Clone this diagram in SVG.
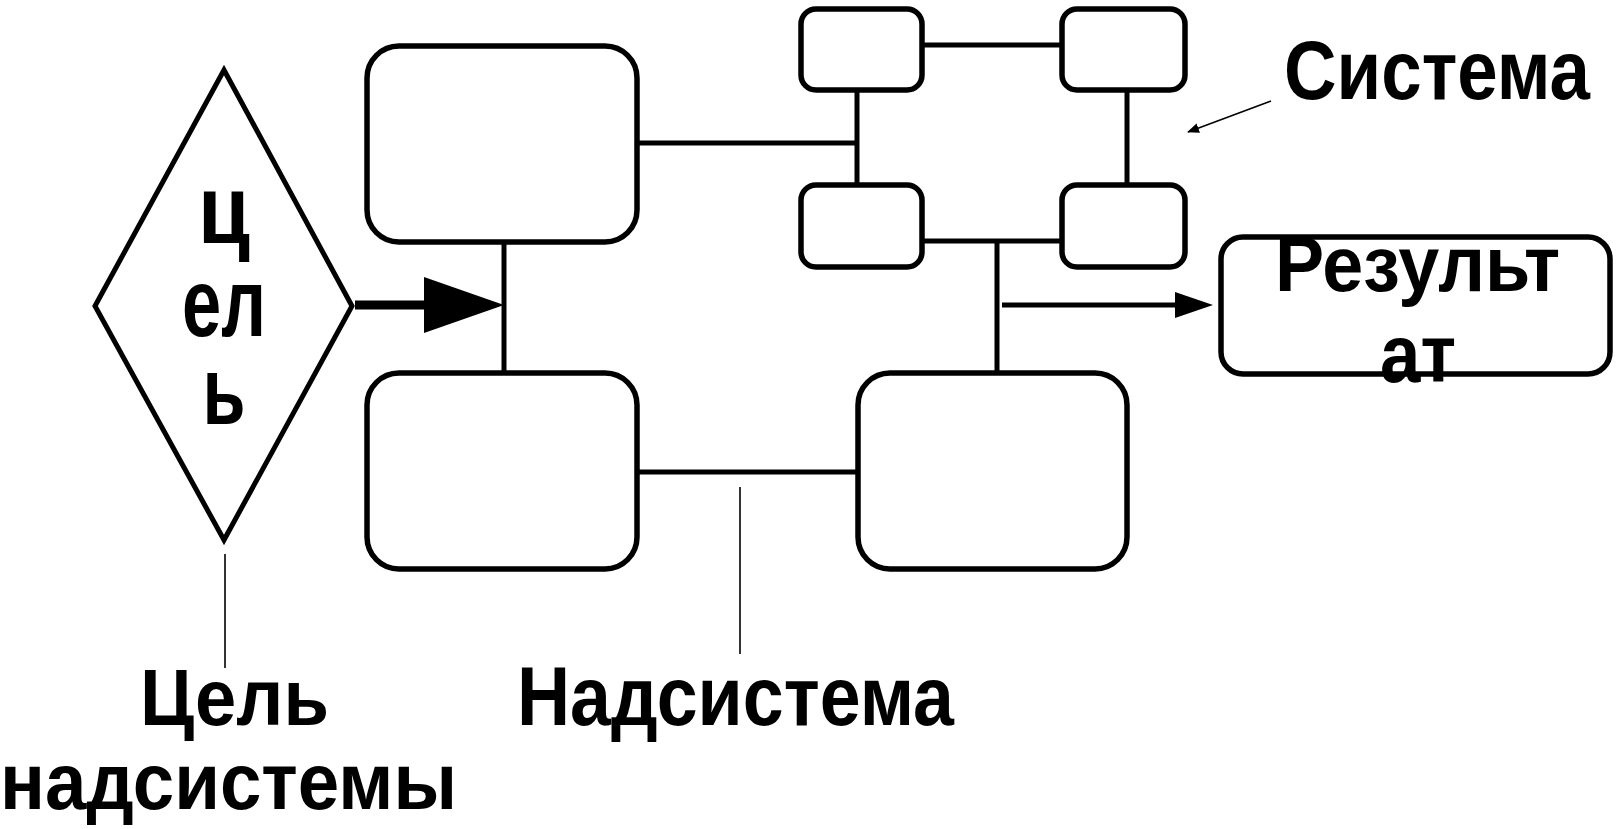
<svg xmlns="http://www.w3.org/2000/svg" width="1623" height="829" viewBox="0 0 1623 829">
  <defs>
    <style>
      .box { fill: #fff; stroke: #000; stroke-width: 5.5; }
      .ln { stroke: #000; stroke-width: 5; fill: none; }
      .thin { stroke: #000; stroke-width: 1.6; fill: none; }
      .t { font-family: "Liberation Sans", Arial, sans-serif; font-weight: bold; fill: #000; }
    </style>
    <marker id="smallArrow" markerWidth="12" markerHeight="10" refX="11" refY="5" orient="auto" markerUnits="userSpaceOnUse">
      <path d="M0,0 L12,5 L0,10 Z" fill="#000"/>
    </marker>
  </defs>
  <rect width="1623" height="829" fill="#fff"/>

  <g id="connectors">
    <line class="ln" x1="637" y1="143" x2="857" y2="143"/>
    <line class="ln" x1="857" y1="90" x2="857" y2="186"/>
    <line class="ln" x1="921" y1="45" x2="1062" y2="45"/>
    <line class="ln" x1="1127" y1="90" x2="1127" y2="186"/>
    <line class="ln" x1="921" y1="241" x2="1062" y2="241"/>
    <line class="ln" x1="997" y1="241" x2="997" y2="373"/>
    <line class="ln" x1="504" y1="241" x2="504" y2="373"/>
    <line class="ln" x1="637" y1="472" x2="858" y2="472"/>
    <line stroke="#000" stroke-width="9" x1="355" y1="305" x2="428" y2="305"/>
    <polygon points="424,277 504,305 424,333" fill="#000"/>
    <line class="ln" x1="1002" y1="305" x2="1180" y2="305"/>
    <polygon points="1175,292 1213,305 1175,318" fill="#000"/>
    <line class="thin" x1="225" y1="554" x2="225" y2="668"/>
    <line class="thin" x1="740" y1="487" x2="740" y2="654"/>
    <line class="thin" stroke-width="2" x1="1271" y1="101" x2="1188" y2="132" marker-end="url(#smallArrow)"/>
  </g>

  <g id="goal">
    <polygon points="224,70 352,306 224,540 95,306" fill="#fff" stroke="#000" stroke-width="5"/>
    <text class="t" font-size="96" text-anchor="middle"><tspan x="224" y="243" textLength="52" lengthAdjust="spacingAndGlyphs">ц</tspan><tspan x="224" y="336" textLength="84" lengthAdjust="spacingAndGlyphs">ел</tspan><tspan x="224" y="424" textLength="43" lengthAdjust="spacingAndGlyphs">ь</tspan></text>
  </g>

  <g id="box-tl"><rect class="box" x="367" y="46" width="270" height="196" rx="32"/></g>
  <g id="box-bl"><rect class="box" x="367" y="373" width="270" height="196" rx="32"/></g>
  <g id="box-br"><rect class="box" x="858" y="373" width="269" height="196" rx="32"/></g>

  <g id="sys-1"><rect class="box" x="801" y="9" width="121" height="81" rx="15"/></g>
  <g id="sys-2"><rect class="box" x="1062" y="9" width="123" height="81" rx="15"/></g>
  <g id="sys-3"><rect class="box" x="801" y="185" width="121" height="82" rx="15"/></g>
  <g id="sys-4"><rect class="box" x="1062" y="185" width="123" height="82" rx="15"/></g>

  <g id="result">
    <rect class="box" x="1221" y="237" width="389" height="137" rx="22"/>
    <text class="t" font-size="78"><tspan x="1275" y="291" textLength="285" lengthAdjust="spacingAndGlyphs">Результ</tspan><tspan x="1380" y="382" font-size="82" textLength="76" lengthAdjust="spacingAndGlyphs">ат</tspan></text>
  </g>

  <g id="label-system">
    <text class="t" x="1590" y="99" font-size="84" text-anchor="end" textLength="306" lengthAdjust="spacingAndGlyphs">Система</text>
  </g>
  <g id="label-supersystem">
    <text class="t" x="517" y="725" font-size="84" textLength="437" lengthAdjust="spacingAndGlyphs">Надсистема</text>
  </g>
  <g id="label-goal">
    <text class="t" font-size="80"><tspan x="140" y="725" textLength="189" lengthAdjust="spacingAndGlyphs">Цель</tspan><tspan x="0" y="809" textLength="457" lengthAdjust="spacingAndGlyphs">надсистемы</tspan></text>
  </g>
</svg>
